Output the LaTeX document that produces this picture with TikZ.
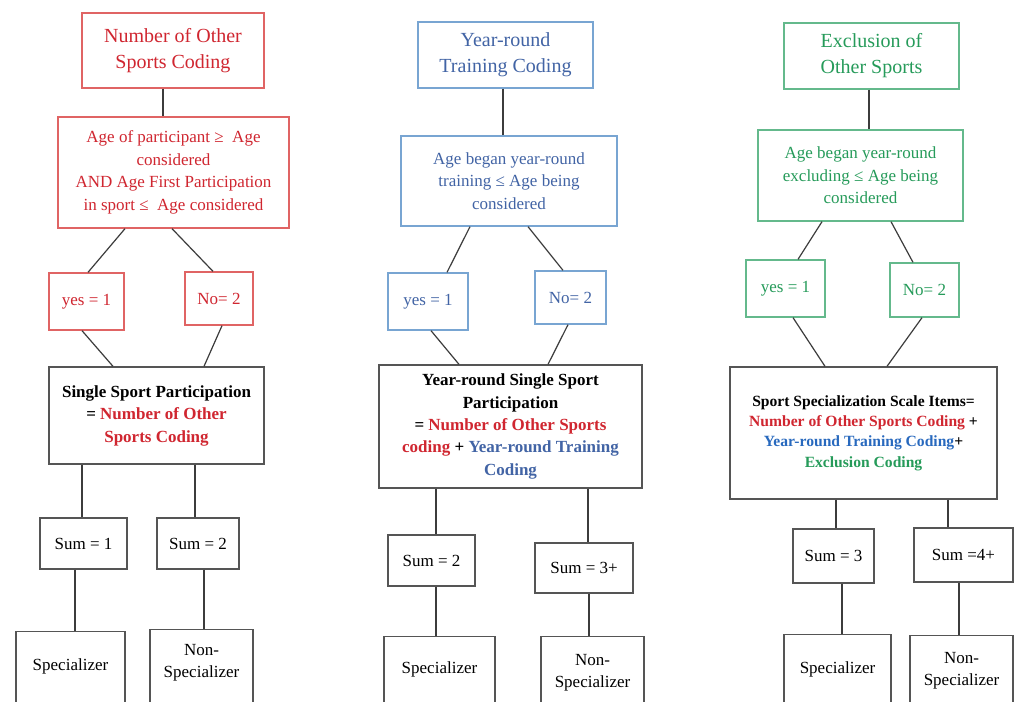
\documentclass[tikz,border=0pt]{standalone}
\usepackage{fontspec}
\setmainfont{Liberation Serif}
\definecolor{rtext}{RGB}{208,38,48}
\definecolor{rbord}{RGB}{224,100,100}
\definecolor{btext}{RGB}{66,100,165}
\definecolor{bbord}{RGB}{120,165,210}
\definecolor{bstrong}{RGB}{40,105,190}
\definecolor{gtext}{RGB}{38,155,90}
\definecolor{gbord}{RGB}{100,185,140}
\definecolor{kbord}{RGB}{85,85,85}
\definecolor{conn}{RGB}{60,60,60}
\tikzset{
 bx/.style={rectangle, align=center, inner sep=0pt, line width=1.3pt, font=\fontsize{17}{22.5}\selectfont},
 topf/.style={font=\fontsize{20}{26}\selectfont},
 sz/.style 2 args={minimum width=#1pt, minimum height=#2pt},
 rbx/.style={bx, draw=rbord, text=rtext},
 bbx/.style={bx, draw=bbord, text=btext},
 gbx/.style={bx, draw=gbord, text=gtext},
 kbx/.style={bx, draw=kbord, text=black},
 lbl/.style={anchor=north, inner sep=0pt, align=center, text=black, font=\fontsize{17}{22}\selectfont},
 ln/.style={draw=conn, line width=1.2pt},
}
\begin{document}
\begin{tikzpicture}[x=1pt,y=-1pt]
\fill[white] (0,0) rectangle (1014,701);
\clip (0,0) rectangle (1014,701);
% ---------- column 1 ----------
\node[rbx, topf, sz={182}{75}] (t1) at (173,50.5) {Number of Other\\Sports Coding};
\node[rbx, sz={231}{111}] (c1) at (173.5,172.5) {Age of participant ≥\ \ Age\\considered\\AND Age First Participation\\in sport ≤\ \ Age considered};
\node[rbx, sz={75}{57}] (y1) at (86.5,301.5) {yes = 1};
\node[rbx, sz={68}{53}] (n1) at (219,298.5) {No= 2};
\node[kbx, sz={215}{97}, font=\bfseries\fontsize{17}{22.5}\selectfont] (r1) at (156.5,415.5) {Single Sport Participation\\= \textcolor{rtext}{Number of Other}\\\textcolor{rtext}{Sports Coding}};
\node[kbx, sz={87}{51}] (s1a) at (83.5,543.5) {Sum = 1};
\node[kbx, sz={82}{51}] (s1b) at (198,543.5) {Sum = 2};
\node[kbx, anchor=north, sz={109}{80}, label={[lbl, yshift=-27.4pt]north:Specializer}] (p1a) at (70.5,631) {};
\node[kbx, anchor=north, sz={103}{80}, label={[lbl, yshift=-14.7pt]north:Non-\\Specializer}] (p1b) at (201.5,629) {};
\draw[ln] ([xshift=-10pt]t1.south) -- ([xshift=-10.5pt]c1.north);
\draw[ln] ([xshift=-48.5pt]c1.south) -- ([xshift=1.5pt]y1.north);
\draw[ln] ([xshift=-1.5pt]c1.south) -- ([xshift=-6pt]n1.north);
\draw[ln] ([xshift=-4.5pt]y1.south) -- ([xshift=-43.5pt]r1.north);
\draw[ln] ([xshift=3pt]n1.south) -- ([xshift=47.5pt]r1.north);
\draw[ln] ([xshift=-74.5pt]r1.south) -- ([xshift=-1.5pt]s1a.north);
\draw[ln] ([xshift=38.5pt]r1.south) -- ([xshift=-3pt]s1b.north);
\draw[ln] ([xshift=-8.5pt]s1a.south) -- ([xshift=4.5pt]p1a.north);
\draw[ln] ([xshift=6pt]s1b.south) -- ([xshift=2.5pt]p1b.north);
% ---------- column 2 ----------
\node[bbx, topf, sz={175}{66}] (t2) at (505.5,55) {Year-round\\Training Coding};
\node[bbx, sz={216}{90}] (c2) at (509,181) {Age began year-round\\training ≤ Age being\\considered};
\node[bbx, sz={80}{57}] (y2) at (428,301.5) {yes = 1};
\node[bbx, sz={71}{53}] (n2) at (570.5,297.5) {No= 2};
\node[kbx, sz={263}{123}, font=\bfseries\fontsize{17}{22.3}\selectfont] (r2) at (510.5,426.5) {Year-round Single Sport\\Participation\\= \textcolor{rtext}{Number of Other Sports}\\\textcolor{rtext}{coding} + \textcolor{btext}{Year-round Training}\\\textcolor{btext}{Coding}};
\node[kbx, sz={87}{51}] (s2a) at (431.5,560.5) {Sum = 2};
\node[kbx, sz={98}{50}] (s2b) at (584,568) {Sum = 3+};
\node[kbx, anchor=north, sz={111}{80}, label={[lbl, yshift=-25.4pt]north:Specializer}] (p2a) at (439.5,636) {};
\node[kbx, anchor=north, sz={103}{80}, label={[lbl, yshift=-17.7pt]north:Non-\\Specializer}] (p2b) at (592.5,636) {};
\draw[ln] ([xshift=-2.5pt]t2.south) -- ([xshift=-6pt]c2.north);
\draw[ln] ([xshift=-39pt]c2.south) -- ([xshift=19pt]y2.north);
\draw[ln] ([xshift=19pt]c2.south) -- ([xshift=-7.5pt]n2.north);
\draw[ln] ([xshift=3pt]y2.south) -- ([xshift=-51.5pt]r2.north);
\draw[ln] ([xshift=-2.5pt]n2.south) -- ([xshift=37.5pt]r2.north);
\draw[ln] ([xshift=-74.5pt]r2.south) -- ([xshift=4.5pt]s2a.north);
\draw[ln] ([xshift=77.5pt]r2.south) -- ([xshift=4pt]s2b.north);
\draw[ln] ([xshift=4.5pt]s2a.south) -- ([xshift=-3.5pt]p2a.north);
\draw[ln] ([xshift=5pt]s2b.south) -- ([xshift=-3.5pt]p2b.north);
% ---------- column 3 ----------
\node[gbx, topf, sz={175}{66}] (t3) at (871.5,56) {Exclusion of\\Other Sports};
\node[gbx, sz={205}{91}] (c3) at (860.5,175.5) {Age began year-round\\excluding ≤ Age being\\considered};
\node[gbx, sz={79}{57}] (y3) at (785.5,288.5) {yes = 1};
\node[gbx, sz={69}{54}] (n3) at (924.5,290) {No= 2};
\node[kbx, sz={267}{132}, font=\bfseries\fontsize{15.6}{20.3}\selectfont] (r3) at (863.5,433) {Sport Specialization Scale Items=\\\textcolor{rtext}{Number of Other Sports Coding} +\\\textcolor{bstrong}{Year-round Training Coding}+\\\textcolor{gtext}{Exclusion Coding}};
\node[kbx, sz={81}{54}] (s3a) at (833.5,556) {Sum = 3};
\node[kbx, sz={99}{54}] (s3b) at (963.5,555) {Sum =4+};
\node[kbx, anchor=north, sz={107}{80}, label={[lbl, yshift=-27.4pt]north:Specializer}] (p3a) at (837.5,634) {};
\node[kbx, anchor=north, sz={103}{80}, label={[lbl, yshift=-16.7pt]north:Non-\\Specializer}] (p3b) at (961.5,635) {};
\draw[ln] ([xshift=-2.5pt]t3.south) -- ([xshift=8.5pt]c3.north);
\draw[ln] ([xshift=-38.5pt]c3.south) -- ([xshift=12.5pt]y3.north);
\draw[ln] ([xshift=30.5pt]c3.south) -- ([xshift=-11.5pt]n3.north);
\draw[ln] ([xshift=7.5pt]y3.south) -- ([xshift=-38.5pt]r3.north);
\draw[ln] ([xshift=-2.5pt]n3.south) -- ([xshift=23.5pt]r3.north);
\draw[ln] ([xshift=-27.5pt]r3.south) -- ([xshift=2.5pt]s3a.north);
\draw[ln] ([xshift=84.5pt]r3.south) -- ([xshift=-15.5pt]s3b.north);
\draw[ln] ([xshift=8.5pt]s3a.south) -- ([xshift=4.5pt]p3a.north);
\draw[ln] ([xshift=-4.5pt]s3b.south) -- ([xshift=-2.5pt]p3b.north);
\end{tikzpicture}
\end{document}
